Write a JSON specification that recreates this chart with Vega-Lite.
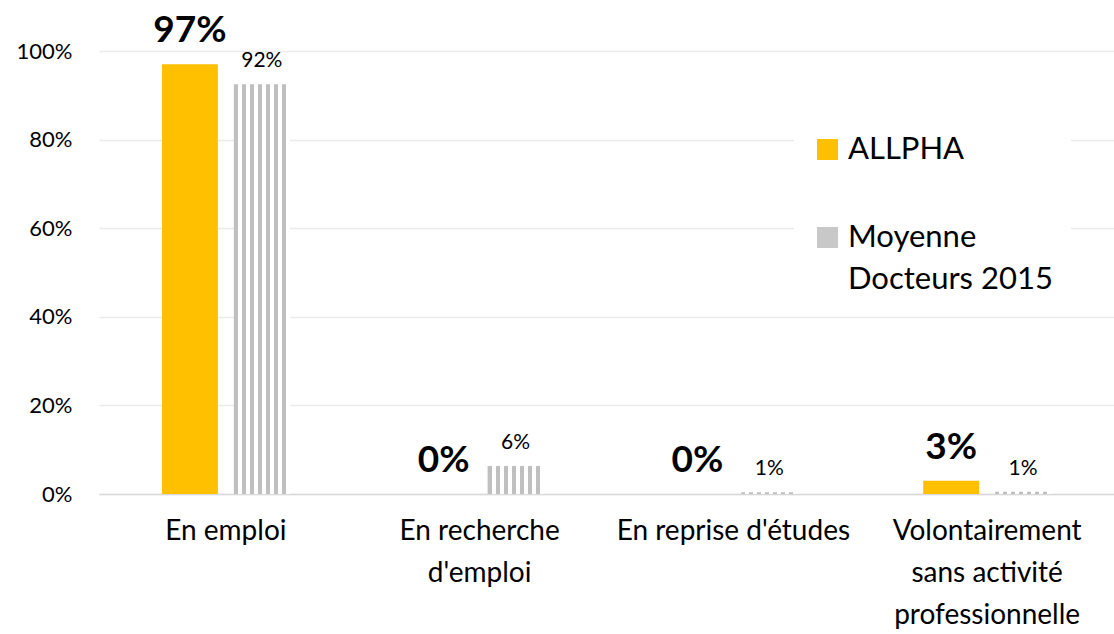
{
  "$schema": "https://vega.github.io/schema/vega-lite/v6.json",
  "autosize": {"type": "none"},
  "width": 1015,
  "height": 443,
  "padding": {"left": 99, "top": 51, "right": 0, "bottom": 140},
  "background": "white",
  "config": {"view": {"stroke": null}, "font": "Lato"},
  "data": {
    "values": [
      {"cat": "En emploi", "series": "ALLPHA", "value": 0.97, "label": "97%"},
      {"cat": "En emploi", "series": "Moyenne Docteurs 2015", "value": 0.925, "label": "92%"},
      {"cat": "En recherche d'emploi", "series": "ALLPHA", "value": 0.0, "label": "0%"},
      {"cat": "En recherche d'emploi", "series": "Moyenne Docteurs 2015", "value": 0.063, "label": "6%"},
      {"cat": "En reprise d'études", "series": "ALLPHA", "value": 0.0, "label": "0%"},
      {"cat": "En reprise d'études", "series": "Moyenne Docteurs 2015", "value": 0.004, "label": "1%"},
      {"cat": "Volontairement sans activité professionnelle", "series": "ALLPHA", "value": 0.03, "label": "3%"},
      {"cat": "Volontairement sans activité professionnelle", "series": "Moyenne Docteurs 2015", "value": 0.005, "label": "1%"}
    ]
  },
  "encoding": {
    "x": {
      "field": "cat", "type": "nominal", "sort": null,
      "scale": {"paddingInner": 0, "paddingOuter": 0},
      "axis": {
        "title": null, "labelAngle": 0, "domain": true, "domainColor": "#d9d9d9", "domainWidth": 1.5,
        "ticks": false, "labelFontSize": 28, "labelLineHeight": 42, "labelPadding": 23,
        "labelColor": "#000000", "labelLimit": 0, "labelOverlap": false, "labelBound": false, "labelBaseline": "top",
        "labelExpr": "datum.label == \"En recherche d'emploi\" ? ['En recherche', \"d'emploi\"] : datum.label == 'Volontairement sans activité professionnelle' ? ['Volontairement', 'sans activité', 'professionnelle'] : datum.label"
      }
    },
    "xOffset": {
      "field": "series", "type": "nominal", "sort": ["ALLPHA", "Moyenne Docteurs 2015"],
      "scale": {"domain": ["ALLPHA", "Moyenne Docteurs 2015"], "paddingInner": 0.2222, "paddingOuter": 0.875}
    },
    "y": {
      "field": "value", "type": "quantitative",
      "scale": {"domain": [0, 1]},
      "axis": {
        "title": null, "values": [0, 0.2, 0.4, 0.6, 0.8, 1], "format": ".0%", "domain": false, "ticks": false,
        "grid": true, "gridColor": "#ebebeb", "gridWidth": 1.5, "labelFontSize": 22, "labelPadding": 27,
        "labelColor": "#000000"
      }
    }
  },
  "layer": [
    {
      "transform": [{"filter": "datum.series == 'ALLPHA'"}],
      "mark": {"type": "bar"},
      "encoding": {
        "color": {
          "field": "series", "type": "nominal",
          "scale": {"domain": ["ALLPHA", "Moyenne Docteurs 2015"], "range": ["#FFC000", "#C8C8C8"]},
          "legend": {
            "title": null, "orient": "none", "legendX": 695, "legendY": 65, "direction": "vertical",
            "symbolType": "square", "symbolSize": 441, "symbolStrokeWidth": 0,
            "labelFontSize": 31, "labelColor": "#000000", "labelOffset": 5, "labelLimit": 0,
            "fillColor": "white", "padding": 18, "rowPadding": 56,
            "labelExpr": "datum.label == 'Moyenne Docteurs 2015' ? ['Moyenne', 'Docteurs 2015'] : datum.label",
            "encode": {
              "labels": {"update": {"lineHeight": {"value": 42}}},
              "symbols": {"update": {"fill": {"signal": "datum.value == 'ALLPHA' ? '#FFC000' : {gradient: 'linear', x1: 0, y1: 0, x2: 1, y2: 0, stops: [{offset: 0, color: '#ffffff'}, {offset: 0.1, color: '#ffffff'}, {offset: 0.1, color: '#bfbfbf'}, {offset: 0.27, color: '#bfbfbf'}, {offset: 0.27, color: '#ffffff'}, {offset: 0.43, color: '#ffffff'}, {offset: 0.43, color: '#bfbfbf'}, {offset: 0.6, color: '#bfbfbf'}, {offset: 0.6, color: '#ffffff'}, {offset: 0.76, color: '#ffffff'}, {offset: 0.76, color: '#bfbfbf'}, {offset: 0.93, color: '#bfbfbf'}, {offset: 0.93, color: '#ffffff'}, {offset: 1, color: '#ffffff'}]}"}}}
            }
          }
        }
      }
    },
    {
      "transform": [{"filter": "datum.series != 'ALLPHA'"}],
      "mark": {
        "type": "bar",
        "fill": {
          "gradient": "linear", "x1": 0, "y1": 0, "x2": 1, "y2": 0,
          "stops": [
            {"offset": 0, "color": "#bfbfbf"}, {"offset": 0.0714, "color": "#bfbfbf"},
            {"offset": 0.0714, "color": "#ffffff"}, {"offset": 0.1429, "color": "#ffffff"},
            {"offset": 0.1429, "color": "#bfbfbf"}, {"offset": 0.2143, "color": "#bfbfbf"},
            {"offset": 0.2143, "color": "#ffffff"}, {"offset": 0.2857, "color": "#ffffff"},
            {"offset": 0.2857, "color": "#bfbfbf"}, {"offset": 0.3571, "color": "#bfbfbf"},
            {"offset": 0.3571, "color": "#ffffff"}, {"offset": 0.4286, "color": "#ffffff"},
            {"offset": 0.4286, "color": "#bfbfbf"}, {"offset": 0.5, "color": "#bfbfbf"},
            {"offset": 0.5, "color": "#ffffff"}, {"offset": 0.5714, "color": "#ffffff"},
            {"offset": 0.5714, "color": "#bfbfbf"}, {"offset": 0.6429, "color": "#bfbfbf"},
            {"offset": 0.6429, "color": "#ffffff"}, {"offset": 0.7143, "color": "#ffffff"},
            {"offset": 0.7143, "color": "#bfbfbf"}, {"offset": 0.7857, "color": "#bfbfbf"},
            {"offset": 0.7857, "color": "#ffffff"}, {"offset": 0.8571, "color": "#ffffff"},
            {"offset": 0.8571, "color": "#bfbfbf"}, {"offset": 0.9286, "color": "#bfbfbf"},
            {"offset": 0.9286, "color": "#ffffff"}, {"offset": 1, "color": "#ffffff"}
          ]
        }
      },
      "encoding": {}
    },
    {
      "transform": [{"filter": "datum.series == 'ALLPHA'"}],
      "mark": {"type": "text", "baseline": "alphabetic", "dy": -22, "fontSize": 37, "fontWeight": "bold", "color": "#000000"},
      "encoding": {"text": {"field": "label"}}
    },
    {
      "transform": [{"filter": "datum.series != 'ALLPHA'"}],
      "mark": {"type": "text", "baseline": "alphabetic", "dy": -17, "fontSize": 21, "color": "#000000"},
      "encoding": {"text": {"field": "label"}}
    }
  ]
}
